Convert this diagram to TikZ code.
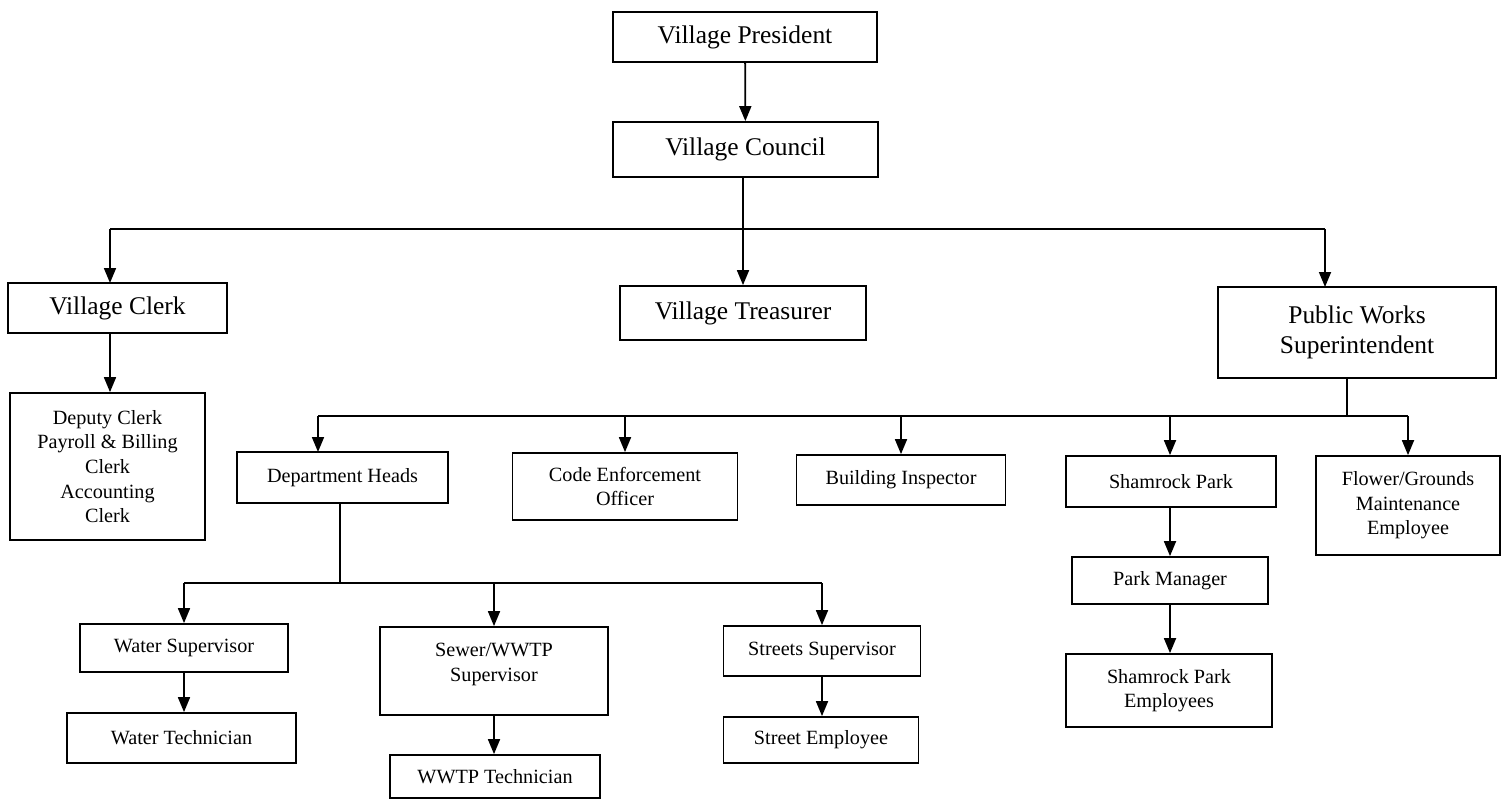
\documentclass[tikz,border=0pt]{standalone}
\usepackage{fontspec}
\setmainfont{Liberation Serif}
\usetikzlibrary{arrows.meta}
\tikzset{
  bigbox/.style={draw, line width=1pt, align=center, inner sep=2pt, font=\fontsize{14.5}{17}\selectfont},
  smallbox/.style={draw, line width=1pt, align=center, inner sep=2pt, font=\fontsize{11.5}{14}\selectfont},
  link/.style={line width=1pt},
  arr/.style={line width=1pt, -{Triangle[length=3mm, width=2.4mm]}}
}
\begin{document}
\begin{tikzpicture}[x=0.02cm, y=-0.02cm]
    \useasboundingbox (0,0) rectangle (1511,800);
    \node[bigbox, minimum width=5.28cm, minimum height=1.0cm] (pres) at (745,37) {Village President};
    \node[bigbox, minimum width=5.3cm, minimum height=1.1cm] (council) at (745.5,149.5) {Village Council};
    \node[bigbox, minimum width=4.38cm, minimum height=1.0cm] (clerk) at (117.5,308) {Village Clerk};
    \node[bigbox, minimum width=4.92cm, minimum height=1.08cm] (treas) at (743,313) {Village Treasurer};
    \node[bigbox, minimum width=5.56cm, minimum height=1.82cm] (pws) at (1357,332.5) {Public Works\\Superintendent};
    \node[smallbox, minimum width=3.9cm, minimum height=2.94cm] (deputy) at (107.5,466.5) {Deputy Clerk\\Payroll \& Billing\\Clerk\\Accounting\\Clerk};
    \node[smallbox, minimum width=4.22cm, minimum height=1.02cm] (dept) at (342.5,477.5) {Department Heads};
    \node[smallbox, minimum width=4.5cm, minimum height=1.34cm] (code) at (625,486.5) {Code Enforcement\\Officer};
    \node[smallbox, minimum width=4.18cm, minimum height=1.0cm] (build) at (901,480) {Building Inspector};
    \node[smallbox, minimum width=4.2cm, minimum height=1.02cm] (shamrock) at (1171,481.5) {Shamrock Park};
    \node[smallbox, minimum width=3.68cm, minimum height=1.98cm] (flower) at (1408,505.5) {Flower/Grounds\\Maintenance\\Employee};
    \node[smallbox, minimum width=3.92cm, minimum height=0.94cm] (pmgr) at (1170,580.5) {Park Manager};
    \node[smallbox, minimum width=4.12cm, minimum height=1.46cm] (spemp) at (1169,690.5) {Shamrock Park\\Employees};
    \node[smallbox, minimum width=4.16cm, minimum height=0.96cm] (wsup) at (184,648) {Water Supervisor};
    \node[smallbox, minimum width=4.56cm, minimum height=1.76cm] (sewer) at (494,671) {Sewer/WWTP\\Supervisor\\[-4pt]\mbox{}};
    \node[smallbox, minimum width=3.94cm, minimum height=1.0cm] (ssup) at (822,651) {Streets Supervisor};
    \node[smallbox, minimum width=4.58cm, minimum height=1.0cm] (wtech) at (181.5,738) {Water Technician};
    \node[smallbox, minimum width=4.2cm, minimum height=0.86cm] (wwtp) at (495,776.5) {WWTP Technician};
    \node[smallbox, minimum width=3.9cm, minimum height=0.92cm] (semp) at (821,740) {Street Employee};
    \coordinate (bus1) at (743,229);
    \coordinate (bus2) at (1347,416);
    \coordinate (bus3) at (340,583);
    \coordinate (clerkin) at (110,283);
    \coordinate (pwsin) at (1325,287);
    \coordinate (deptin) at (318,452);
    \draw[arr] (pres) -- (council);
    \draw[arr] (council.south -| bus1) -- (treas.north -| bus1);
    \draw[link] (clerkin |- bus1) -- (pwsin |- bus1);
    \draw[arr] (clerkin |- bus1) -- (clerkin);
    \draw[arr] (pwsin |- bus1) -- (pwsin);
    \draw[arr] (clerkin |- clerk.south) -- (clerkin |- deputy.north);
    \draw[link] (bus2 |- pws.south) -- (bus2);
    \draw[link] (deptin |- bus2) -- (flower.north |- bus2);
    \draw[arr] (deptin |- bus2) -- (deptin);
    \draw[arr] (code.north |- bus2) -- (code.north);
    \draw[arr] (build.north |- bus2) -- (build.north);
    \draw[arr] (pmgr.north |- bus2) -- (pmgr.north |- shamrock.north);
    \draw[arr] (flower.north |- bus2) -- (flower.north);
    \draw[arr] (pmgr.north |- shamrock.south) -- (pmgr.north);
    \draw[arr] (pmgr.south) -- (pmgr.south |- spemp.north);
    \draw[link] (bus3 |- dept.south) -- (bus3);
    \draw[link] (wsup.north |- bus3) -- (ssup.north |- bus3);
    \draw[arr] (wsup.north |- bus3) -- (wsup.north);
    \draw[arr] (sewer.north |- bus3) -- (sewer.north);
    \draw[arr] (ssup.north |- bus3) -- (ssup.north);
    \draw[arr] (wsup.south) -- (wsup.south |- wtech.north);
    \draw[arr] (sewer.south) -- (sewer.south |- wwtp.north);
    \draw[arr] (ssup.south) -- (ssup.south |- semp.north);
\end{tikzpicture}
\end{document}
